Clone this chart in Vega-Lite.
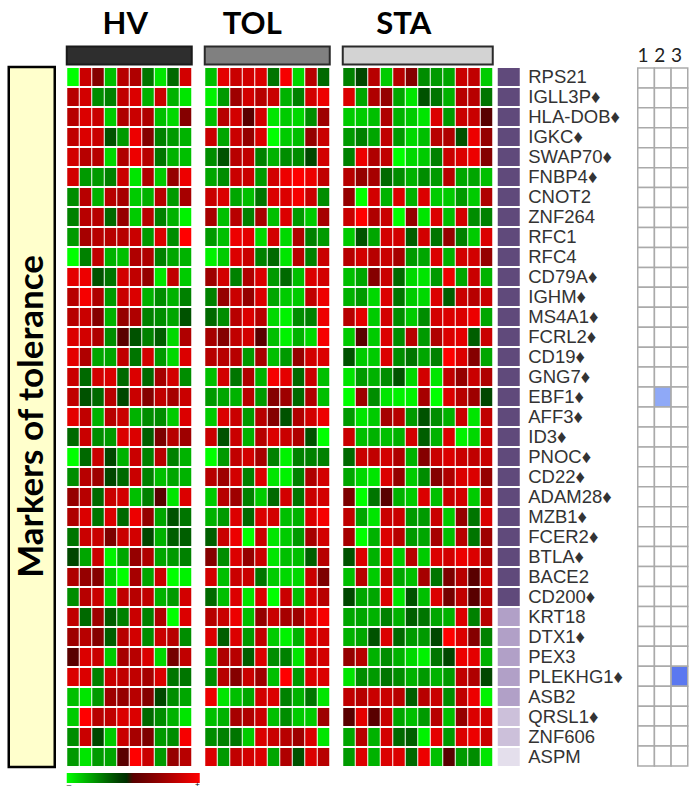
{"$schema":"https://vega.github.io/schema/vega-lite/v6.json","padding":{"left":6.75,"top":8,"right":0,"bottom":0},"background":"white","bounds":"flush","spacing":5,"resolve":{"scale":{"fill":"independent","x":"independent","y":"independent"}},"config":{"view":{"stroke":null},"axis":{"title":null}},
"datasets":{
"hv":[
{"g":"RPS21","s":"1","v":-1},{"g":"RPS21","s":"2","v":0.7},{"g":"RPS21","s":"3","v":0.3},{"g":"RPS21","s":"4","v":-0.75},{"g":"RPS21","s":"5","v":0.6},{"g":"RPS21","s":"6","v":0.55},{"g":"RPS21","s":"7","v":-0.45},{"g":"RPS21","s":"8","v":-0.9},{"g":"RPS21","s":"9","v":-0.4},{"g":"RPS21","s":"10","v":0.75},
{"g":"IGLL3P◆","s":"1","v":0.6},{"g":"IGLL3P◆","s":"2","v":0.75},{"g":"IGLL3P◆","s":"3","v":-0.55},{"g":"IGLL3P◆","s":"4","v":-0.5},{"g":"IGLL3P◆","s":"5","v":0.65},{"g":"IGLL3P◆","s":"6","v":0.8},{"g":"IGLL3P◆","s":"7","v":-0.7},{"g":"IGLL3P◆","s":"8","v":0.7},{"g":"IGLL3P◆","s":"9","v":-0.7},{"g":"IGLL3P◆","s":"10","v":-0.9},
{"g":"HLA-DOB◆","s":"1","v":0.6},{"g":"HLA-DOB◆","s":"2","v":0.8},{"g":"HLA-DOB◆","s":"3","v":0.7},{"g":"HLA-DOB◆","s":"4","v":-0.8},{"g":"HLA-DOB◆","s":"5","v":0.55},{"g":"HLA-DOB◆","s":"6","v":0.7},{"g":"HLA-DOB◆","s":"7","v":0.55},{"g":"HLA-DOB◆","s":"8","v":-0.75},{"g":"HLA-DOB◆","s":"9","v":-0.85},{"g":"HLA-DOB◆","s":"10","v":0.3},
{"g":"IGKC◆","s":"1","v":0.65},{"g":"IGKC◆","s":"2","v":0.8},{"g":"IGKC◆","s":"3","v":0.7},{"g":"IGKC◆","s":"4","v":-0.3},{"g":"IGKC◆","s":"5","v":-0.6},{"g":"IGKC◆","s":"6","v":0.9},{"g":"IGKC◆","s":"7","v":0.3},{"g":"IGKC◆","s":"8","v":-0.5},{"g":"IGKC◆","s":"9","v":-0.6},{"g":"IGKC◆","s":"10","v":-0.7},
{"g":"SWAP70◆","s":"1","v":0.75},{"g":"SWAP70◆","s":"2","v":0.6},{"g":"SWAP70◆","s":"3","v":0.6},{"g":"SWAP70◆","s":"4","v":-0.85},{"g":"SWAP70◆","s":"5","v":0.55},{"g":"SWAP70◆","s":"6","v":0.9},{"g":"SWAP70◆","s":"7","v":0.6},{"g":"SWAP70◆","s":"8","v":-0.45},{"g":"SWAP70◆","s":"9","v":-0.7},{"g":"SWAP70◆","s":"10","v":-0.75},
{"g":"FNBP4◆","s":"1","v":0.75},{"g":"FNBP4◆","s":"2","v":-0.6},{"g":"FNBP4◆","s":"3","v":-0.6},{"g":"FNBP4◆","s":"4","v":-0.5},{"g":"FNBP4◆","s":"5","v":0.7},{"g":"FNBP4◆","s":"6","v":-0.9},{"g":"FNBP4◆","s":"7","v":0.55},{"g":"FNBP4◆","s":"8","v":-0.8},{"g":"FNBP4◆","s":"9","v":0.4},{"g":"FNBP4◆","s":"10","v":0.9},
{"g":"CNOT2","s":"1","v":-0.55},{"g":"CNOT2","s":"2","v":0.6},{"g":"CNOT2","s":"3","v":-0.7},{"g":"CNOT2","s":"4","v":0.6},{"g":"CNOT2","s":"5","v":0.5},{"g":"CNOT2","s":"6","v":-0.8},{"g":"CNOT2","s":"7","v":-0.7},{"g":"CNOT2","s":"8","v":0.6},{"g":"CNOT2","s":"9","v":-0.6},{"g":"CNOT2","s":"10","v":0.5},
{"g":"ZNF264","s":"1","v":-0.5},{"g":"ZNF264","s":"2","v":0.6},{"g":"ZNF264","s":"3","v":0.6},{"g":"ZNF264","s":"4","v":-0.4},{"g":"ZNF264","s":"5","v":0.4},{"g":"ZNF264","s":"6","v":-0.8},{"g":"ZNF264","s":"7","v":0.6},{"g":"ZNF264","s":"8","v":-0.5},{"g":"ZNF264","s":"9","v":-0.7},{"g":"ZNF264","s":"10","v":-0.95},
{"g":"RFC1","s":"1","v":-0.6},{"g":"RFC1","s":"2","v":0.5},{"g":"RFC1","s":"3","v":0.6},{"g":"RFC1","s":"4","v":0.6},{"g":"RFC1","s":"5","v":0.6},{"g":"RFC1","s":"6","v":0.7},{"g":"RFC1","s":"7","v":-0.6},{"g":"RFC1","s":"8","v":0.8},{"g":"RFC1","s":"9","v":-0.55},{"g":"RFC1","s":"10","v":1},
{"g":"RFC4","s":"1","v":-1},{"g":"RFC4","s":"2","v":-0.5},{"g":"RFC4","s":"3","v":0.65},{"g":"RFC4","s":"4","v":-0.7},{"g":"RFC4","s":"5","v":-0.75},{"g":"RFC4","s":"6","v":0.55},{"g":"RFC4","s":"7","v":0.55},{"g":"RFC4","s":"8","v":-0.5},{"g":"RFC4","s":"9","v":-0.65},{"g":"RFC4","s":"10","v":-0.7},
{"g":"CD79A◆","s":"1","v":0.85},{"g":"CD79A◆","s":"2","v":0.9},{"g":"CD79A◆","s":"3","v":-0.3},{"g":"CD79A◆","s":"4","v":-0.45},{"g":"CD79A◆","s":"5","v":0.75},{"g":"CD79A◆","s":"6","v":0.65},{"g":"CD79A◆","s":"7","v":0.4},{"g":"CD79A◆","s":"8","v":-0.9},{"g":"CD79A◆","s":"9","v":0.65},{"g":"CD79A◆","s":"10","v":-0.8},
{"g":"IGHM◆","s":"1","v":0.6},{"g":"IGHM◆","s":"2","v":0.95},{"g":"IGHM◆","s":"3","v":0.55},{"g":"IGHM◆","s":"4","v":-0.6},{"g":"IGHM◆","s":"5","v":0.7},{"g":"IGHM◆","s":"6","v":0.8},{"g":"IGHM◆","s":"7","v":-0.7},{"g":"IGHM◆","s":"8","v":-0.55},{"g":"IGHM◆","s":"9","v":-0.7},{"g":"IGHM◆","s":"10","v":-0.5},
{"g":"MS4A1◆","s":"1","v":0.6},{"g":"MS4A1◆","s":"2","v":0.7},{"g":"MS4A1◆","s":"3","v":0.3},{"g":"MS4A1◆","s":"4","v":-0.7},{"g":"MS4A1◆","s":"5","v":0.4},{"g":"MS4A1◆","s":"6","v":0.55},{"g":"MS4A1◆","s":"7","v":-0.5},{"g":"MS4A1◆","s":"8","v":-0.55},{"g":"MS4A1◆","s":"9","v":-0.65},{"g":"MS4A1◆","s":"10","v":-0.3},
{"g":"FCRL2◆","s":"1","v":0.8},{"g":"FCRL2◆","s":"2","v":0.75},{"g":"FCRL2◆","s":"3","v":0.55},{"g":"FCRL2◆","s":"4","v":-0.55},{"g":"FCRL2◆","s":"5","v":0},{"g":"FCRL2◆","s":"6","v":-0.3},{"g":"FCRL2◆","s":"7","v":-0.5},{"g":"FCRL2◆","s":"8","v":-0.35},{"g":"FCRL2◆","s":"9","v":-0.85},{"g":"FCRL2◆","s":"10","v":0.55},
{"g":"CD19◆","s":"1","v":0.85},{"g":"CD19◆","s":"2","v":0.55},{"g":"CD19◆","s":"3","v":-0.65},{"g":"CD19◆","s":"4","v":-0.65},{"g":"CD19◆","s":"5","v":0.65},{"g":"CD19◆","s":"6","v":-0.45},{"g":"CD19◆","s":"7","v":0.75},{"g":"CD19◆","s":"8","v":-0.6},{"g":"CD19◆","s":"9","v":-0.85},{"g":"CD19◆","s":"10","v":0.8},
{"g":"GNG7◆","s":"1","v":0.7},{"g":"GNG7◆","s":"2","v":-0.4},{"g":"GNG7◆","s":"3","v":0.75},{"g":"GNG7◆","s":"4","v":0.8},{"g":"GNG7◆","s":"5","v":-0.4},{"g":"GNG7◆","s":"6","v":0.8},{"g":"GNG7◆","s":"7","v":-0.4},{"g":"GNG7◆","s":"8","v":0.5},{"g":"GNG7◆","s":"9","v":0.75},{"g":"GNG7◆","s":"10","v":-0.55},
{"g":"EBF1◆","s":"1","v":0.65},{"g":"EBF1◆","s":"2","v":-0.3},{"g":"EBF1◆","s":"3","v":-0.4},{"g":"EBF1◆","s":"4","v":0.6},{"g":"EBF1◆","s":"5","v":-0.25},{"g":"EBF1◆","s":"6","v":0.7},{"g":"EBF1◆","s":"7","v":0.3},{"g":"EBF1◆","s":"8","v":0.65},{"g":"EBF1◆","s":"9","v":0.5},{"g":"EBF1◆","s":"10","v":0.7},
{"g":"AFF3◆","s":"1","v":0.85},{"g":"AFF3◆","s":"2","v":0.65},{"g":"AFF3◆","s":"3","v":-0.7},{"g":"AFF3◆","s":"4","v":0.6},{"g":"AFF3◆","s":"5","v":0.7},{"g":"AFF3◆","s":"6","v":-0.7},{"g":"AFF3◆","s":"7","v":-0.55},{"g":"AFF3◆","s":"8","v":-0.55},{"g":"AFF3◆","s":"9","v":-0.8},{"g":"AFF3◆","s":"10","v":0.8},
{"g":"ID3◆","s":"1","v":-0.4},{"g":"ID3◆","s":"2","v":0.7},{"g":"ID3◆","s":"3","v":-0.55},{"g":"ID3◆","s":"4","v":-0.6},{"g":"ID3◆","s":"5","v":0.8},{"g":"ID3◆","s":"6","v":0.8},{"g":"ID3◆","s":"7","v":-0.35},{"g":"ID3◆","s":"8","v":0.25},{"g":"ID3◆","s":"9","v":0.6},{"g":"ID3◆","s":"10","v":0.45},
{"g":"PNOC◆","s":"1","v":-1},{"g":"PNOC◆","s":"2","v":-0.4},{"g":"PNOC◆","s":"3","v":0.7},{"g":"PNOC◆","s":"4","v":-0.25},{"g":"PNOC◆","s":"5","v":-0.7},{"g":"PNOC◆","s":"6","v":0.7},{"g":"PNOC◆","s":"7","v":-0.5},{"g":"PNOC◆","s":"8","v":0.6},{"g":"PNOC◆","s":"9","v":-0.5},{"g":"PNOC◆","s":"10","v":-0.7},
{"g":"CD22◆","s":"1","v":-0.55},{"g":"CD22◆","s":"2","v":0.6},{"g":"CD22◆","s":"3","v":0.45},{"g":"CD22◆","s":"4","v":-0.25},{"g":"CD22◆","s":"5","v":-0.4},{"g":"CD22◆","s":"6","v":0.7},{"g":"CD22◆","s":"7","v":-0.5},{"g":"CD22◆","s":"8","v":-0.75},{"g":"CD22◆","s":"9","v":-0.65},{"g":"CD22◆","s":"10","v":-0.7},
{"g":"ADAM28◆","s":"1","v":0.4},{"g":"ADAM28◆","s":"2","v":0.6},{"g":"ADAM28◆","s":"3","v":-0.4},{"g":"ADAM28◆","s":"4","v":0.7},{"g":"ADAM28◆","s":"5","v":0.75},{"g":"ADAM28◆","s":"6","v":-0.75},{"g":"ADAM28◆","s":"7","v":-0.5},{"g":"ADAM28◆","s":"8","v":0},{"g":"ADAM28◆","s":"9","v":-0.9},{"g":"ADAM28◆","s":"10","v":0.8},
{"g":"MZB1◆","s":"1","v":0.55},{"g":"MZB1◆","s":"2","v":0.8},{"g":"MZB1◆","s":"3","v":-0.45},{"g":"MZB1◆","s":"4","v":0.8},{"g":"MZB1◆","s":"5","v":-0.4},{"g":"MZB1◆","s":"6","v":0.9},{"g":"MZB1◆","s":"7","v":0.4},{"g":"MZB1◆","s":"8","v":-0.65},{"g":"MZB1◆","s":"9","v":-0.3},{"g":"MZB1◆","s":"10","v":-0.45},
{"g":"FCER2◆","s":"1","v":-0.45},{"g":"FCER2◆","s":"2","v":0.7},{"g":"FCER2◆","s":"3","v":0.7},{"g":"FCER2◆","s":"4","v":0.25},{"g":"FCER2◆","s":"5","v":0.7},{"g":"FCER2◆","s":"6","v":0.75},{"g":"FCER2◆","s":"7","v":-0.25},{"g":"FCER2◆","s":"8","v":-0.7},{"g":"FCER2◆","s":"9","v":-0.35},{"g":"FCER2◆","s":"10","v":-0.35},
{"g":"BTLA◆","s":"1","v":-0.25},{"g":"BTLA◆","s":"2","v":-0.65},{"g":"BTLA◆","s":"3","v":0.7},{"g":"BTLA◆","s":"4","v":-0.95},{"g":"BTLA◆","s":"5","v":-0.65},{"g":"BTLA◆","s":"6","v":0.4},{"g":"BTLA◆","s":"7","v":0.55},{"g":"BTLA◆","s":"8","v":-0.65},{"g":"BTLA◆","s":"9","v":-0.6},{"g":"BTLA◆","s":"10","v":-0.5},
{"g":"BACE2","s":"1","v":0.55},{"g":"BACE2","s":"2","v":0.4},{"g":"BACE2","s":"3","v":0.3},{"g":"BACE2","s":"4","v":-0.8},{"g":"BACE2","s":"5","v":-1},{"g":"BACE2","s":"6","v":0.5},{"g":"BACE2","s":"7","v":-0.65},{"g":"BACE2","s":"8","v":0.7},{"g":"BACE2","s":"9","v":-1},{"g":"BACE2","s":"10","v":-0.95},
{"g":"CD200◆","s":"1","v":-0.55},{"g":"CD200◆","s":"2","v":0.6},{"g":"CD200◆","s":"3","v":0.7},{"g":"CD200◆","s":"4","v":-0.8},{"g":"CD200◆","s":"5","v":0.65},{"g":"CD200◆","s":"6","v":0.6},{"g":"CD200◆","s":"7","v":0.65},{"g":"CD200◆","s":"8","v":-0.7},{"g":"CD200◆","s":"9","v":-0.6},{"g":"CD200◆","s":"10","v":0.75},
{"g":"KRT18","s":"1","v":0.65},{"g":"KRT18","s":"2","v":-0.4},{"g":"KRT18","s":"3","v":0.45},{"g":"KRT18","s":"4","v":-0.35},{"g":"KRT18","s":"5","v":-0.5},{"g":"KRT18","s":"6","v":0.7},{"g":"KRT18","s":"7","v":-0.5},{"g":"KRT18","s":"8","v":0.55},{"g":"KRT18","s":"9","v":-1},{"g":"KRT18","s":"10","v":0.8},
{"g":"DTX1◆","s":"1","v":0.45},{"g":"DTX1◆","s":"2","v":0.6},{"g":"DTX1◆","s":"3","v":0.3},{"g":"DTX1◆","s":"4","v":-0.35},{"g":"DTX1◆","s":"5","v":0.6},{"g":"DTX1◆","s":"6","v":0.75},{"g":"DTX1◆","s":"7","v":-0.55},{"g":"DTX1◆","s":"8","v":0.7},{"g":"DTX1◆","s":"9","v":0.6},{"g":"DTX1◆","s":"10","v":-0.55},
{"g":"PEX3","s":"1","v":0},{"g":"PEX3","s":"2","v":0.8},{"g":"PEX3","s":"3","v":0.7},{"g":"PEX3","s":"4","v":-0.8},{"g":"PEX3","s":"5","v":0.5},{"g":"PEX3","s":"6","v":0.6},{"g":"PEX3","s":"7","v":0.8},{"g":"PEX3","s":"8","v":-0.85},{"g":"PEX3","s":"9","v":0.2},{"g":"PEX3","s":"10","v":0.65},
{"g":"PLEKHG1◆","s":"1","v":0.8},{"g":"PLEKHG1◆","s":"2","v":0.8},{"g":"PLEKHG1◆","s":"3","v":-0.5},{"g":"PLEKHG1◆","s":"4","v":0.7},{"g":"PLEKHG1◆","s":"5","v":0.65},{"g":"PLEKHG1◆","s":"6","v":0.65},{"g":"PLEKHG1◆","s":"7","v":0.5},{"g":"PLEKHG1◆","s":"8","v":0.8},{"g":"PLEKHG1◆","s":"9","v":-0.45},{"g":"PLEKHG1◆","s":"10","v":-0.45},
{"g":"ASB2","s":"1","v":-0.75},{"g":"ASB2","s":"2","v":-0.9},{"g":"ASB2","s":"3","v":-0.6},{"g":"ASB2","s":"4","v":0.45},{"g":"ASB2","s":"5","v":0.4},{"g":"ASB2","s":"6","v":0.6},{"g":"ASB2","s":"7","v":0.3},{"g":"ASB2","s":"8","v":-0.25},{"g":"ASB2","s":"9","v":-0.55},{"g":"ASB2","s":"10","v":-0.65},
{"g":"QRSL1◆","s":"1","v":-0.8},{"g":"QRSL1◆","s":"2","v":1},{"g":"QRSL1◆","s":"3","v":0.6},{"g":"QRSL1◆","s":"4","v":0.65},{"g":"QRSL1◆","s":"5","v":0.8},{"g":"QRSL1◆","s":"6","v":0.8},{"g":"QRSL1◆","s":"7","v":-0.4},{"g":"QRSL1◆","s":"8","v":-0.55},{"g":"QRSL1◆","s":"9","v":-0.7},{"g":"QRSL1◆","s":"10","v":-0.9},
{"g":"ZNF606","s":"1","v":-0.55},{"g":"ZNF606","s":"2","v":0.7},{"g":"ZNF606","s":"3","v":-0.25},{"g":"ZNF606","s":"4","v":-0.8},{"g":"ZNF606","s":"5","v":0.7},{"g":"ZNF606","s":"6","v":0.5},{"g":"ZNF606","s":"7","v":0.25},{"g":"ZNF606","s":"8","v":-0.6},{"g":"ZNF606","s":"9","v":-0.55},{"g":"ZNF606","s":"10","v":0.95},
{"g":"ASPM","s":"1","v":-0.6},{"g":"ASPM","s":"2","v":-0.9},{"g":"ASPM","s":"3","v":-0.6},{"g":"ASPM","s":"4","v":-0.65},{"g":"ASPM","s":"5","v":0},{"g":"ASPM","s":"6","v":1},{"g":"ASPM","s":"7","v":0.7},{"g":"ASPM","s":"8","v":-0.6},{"g":"ASPM","s":"9","v":0.4},{"g":"ASPM","s":"10","v":0.6}
],
"tol":[
{"g":"RPS21","s":"1","v":-0.75},{"g":"RPS21","s":"2","v":0.85},{"g":"RPS21","s":"3","v":0.7},{"g":"RPS21","s":"4","v":0.75},{"g":"RPS21","s":"5","v":0.8},{"g":"RPS21","s":"6","v":-0.45},{"g":"RPS21","s":"7","v":0.95},{"g":"RPS21","s":"8","v":-0.85},{"g":"RPS21","s":"9","v":0.6},{"g":"RPS21","s":"10","v":-0.4},
{"g":"IGLL3P◆","s":"1","v":-0.95},{"g":"IGLL3P◆","s":"2","v":-0.6},{"g":"IGLL3P◆","s":"3","v":0.45},{"g":"IGLL3P◆","s":"4","v":0.75},{"g":"IGLL3P◆","s":"5","v":0.6},{"g":"IGLL3P◆","s":"6","v":0.7},{"g":"IGLL3P◆","s":"7","v":-0.7},{"g":"IGLL3P◆","s":"8","v":-0.5},{"g":"IGLL3P◆","s":"9","v":0.75},{"g":"IGLL3P◆","s":"10","v":0.9},
{"g":"HLA-DOB◆","s":"1","v":-0.75},{"g":"HLA-DOB◆","s":"2","v":0.6},{"g":"HLA-DOB◆","s":"3","v":0.75},{"g":"HLA-DOB◆","s":"4","v":0},{"g":"HLA-DOB◆","s":"5","v":0.75},{"g":"HLA-DOB◆","s":"6","v":-0.9},{"g":"HLA-DOB◆","s":"7","v":-0.8},{"g":"HLA-DOB◆","s":"8","v":-0.85},{"g":"HLA-DOB◆","s":"9","v":-0.55},{"g":"HLA-DOB◆","s":"10","v":0.45},
{"g":"IGKC◆","s":"1","v":0.7},{"g":"IGKC◆","s":"2","v":-0.65},{"g":"IGKC◆","s":"3","v":0.7},{"g":"IGKC◆","s":"4","v":0.4},{"g":"IGKC◆","s":"5","v":0.8},{"g":"IGKC◆","s":"6","v":-1},{"g":"IGKC◆","s":"7","v":-0.8},{"g":"IGKC◆","s":"8","v":-0.75},{"g":"IGKC◆","s":"9","v":0.4},{"g":"IGKC◆","s":"10","v":0.7},
{"g":"SWAP70◆","s":"1","v":-0.55},{"g":"SWAP70◆","s":"2","v":-0.3},{"g":"SWAP70◆","s":"3","v":0.6},{"g":"SWAP70◆","s":"4","v":0.65},{"g":"SWAP70◆","s":"5","v":-0.5},{"g":"SWAP70◆","s":"6","v":-0.7},{"g":"SWAP70◆","s":"7","v":-0.55},{"g":"SWAP70◆","s":"8","v":-0.55},{"g":"SWAP70◆","s":"9","v":-0.25},{"g":"SWAP70◆","s":"10","v":0.75},
{"g":"FNBP4◆","s":"1","v":-0.65},{"g":"FNBP4◆","s":"2","v":-0.55},{"g":"FNBP4◆","s":"3","v":0.7},{"g":"FNBP4◆","s":"4","v":0.7},{"g":"FNBP4◆","s":"5","v":-0.6},{"g":"FNBP4◆","s":"6","v":0.75},{"g":"FNBP4◆","s":"7","v":0.9},{"g":"FNBP4◆","s":"8","v":1},{"g":"FNBP4◆","s":"9","v":0.9},{"g":"FNBP4◆","s":"10","v":0.65},
{"g":"CNOT2","s":"1","v":0.7},{"g":"CNOT2","s":"2","v":0.8},{"g":"CNOT2","s":"3","v":-0.65},{"g":"CNOT2","s":"4","v":-0.75},{"g":"CNOT2","s":"5","v":-0.45},{"g":"CNOT2","s":"6","v":0.8},{"g":"CNOT2","s":"7","v":0.8},{"g":"CNOT2","s":"8","v":0.95},{"g":"CNOT2","s":"9","v":0.7},{"g":"CNOT2","s":"10","v":-0.55},
{"g":"ZNF264","s":"1","v":0.5},{"g":"ZNF264","s":"2","v":-0.75},{"g":"ZNF264","s":"3","v":0.6},{"g":"ZNF264","s":"4","v":-0.5},{"g":"ZNF264","s":"5","v":0.5},{"g":"ZNF264","s":"6","v":-0.75},{"g":"ZNF264","s":"7","v":0.8},{"g":"ZNF264","s":"8","v":-0.6},{"g":"ZNF264","s":"9","v":-0.8},{"g":"ZNF264","s":"10","v":0.5},
{"g":"RFC1","s":"1","v":-0.6},{"g":"RFC1","s":"2","v":-0.75},{"g":"RFC1","s":"3","v":0.9},{"g":"RFC1","s":"4","v":0.85},{"g":"RFC1","s":"5","v":-0.85},{"g":"RFC1","s":"6","v":0.75},{"g":"RFC1","s":"7","v":-0.85},{"g":"RFC1","s":"8","v":0.55},{"g":"RFC1","s":"9","v":-0.5},{"g":"RFC1","s":"10","v":-0.6},
{"g":"RFC4","s":"1","v":-0.95},{"g":"RFC4","s":"2","v":-0.8},{"g":"RFC4","s":"3","v":0.8},{"g":"RFC4","s":"4","v":0.7},{"g":"RFC4","s":"5","v":-0.5},{"g":"RFC4","s":"6","v":-0.4},{"g":"RFC4","s":"7","v":-0.9},{"g":"RFC4","s":"8","v":0.6},{"g":"RFC4","s":"9","v":-0.5},{"g":"RFC4","s":"10","v":0.7},
{"g":"CD79A◆","s":"1","v":0.45},{"g":"CD79A◆","s":"2","v":0.75},{"g":"CD79A◆","s":"3","v":-0.5},{"g":"CD79A◆","s":"4","v":0.55},{"g":"CD79A◆","s":"5","v":0.8},{"g":"CD79A◆","s":"6","v":-0.6},{"g":"CD79A◆","s":"7","v":-0.4},{"g":"CD79A◆","s":"8","v":-0.75},{"g":"CD79A◆","s":"9","v":0.8},{"g":"CD79A◆","s":"10","v":0.75},
{"g":"IGHM◆","s":"1","v":-0.5},{"g":"IGHM◆","s":"2","v":0.4},{"g":"IGHM◆","s":"3","v":0.7},{"g":"IGHM◆","s":"4","v":0.4},{"g":"IGHM◆","s":"5","v":0.8},{"g":"IGHM◆","s":"6","v":-0.65},{"g":"IGHM◆","s":"7","v":-0.8},{"g":"IGHM◆","s":"8","v":-0.8},{"g":"IGHM◆","s":"9","v":0.65},{"g":"IGHM◆","s":"10","v":0.9},
{"g":"MS4A1◆","s":"1","v":-0.4},{"g":"MS4A1◆","s":"2","v":-0.55},{"g":"MS4A1◆","s":"3","v":0.6},{"g":"MS4A1◆","s":"4","v":0.8},{"g":"MS4A1◆","s":"5","v":0.6},{"g":"MS4A1◆","s":"6","v":-0.85},{"g":"MS4A1◆","s":"7","v":-0.95},{"g":"MS4A1◆","s":"8","v":-0.55},{"g":"MS4A1◆","s":"9","v":-0.5},{"g":"MS4A1◆","s":"10","v":0.9},
{"g":"FCRL2◆","s":"1","v":0.5},{"g":"FCRL2◆","s":"2","v":0.3},{"g":"FCRL2◆","s":"3","v":0.65},{"g":"FCRL2◆","s":"4","v":0.75},{"g":"FCRL2◆","s":"5","v":0},{"g":"FCRL2◆","s":"6","v":-0.75},{"g":"FCRL2◆","s":"7","v":-0.95},{"g":"FCRL2◆","s":"8","v":-0.7},{"g":"FCRL2◆","s":"9","v":-0.85},{"g":"FCRL2◆","s":"10","v":0.95},
{"g":"CD19◆","s":"1","v":0.6},{"g":"CD19◆","s":"2","v":0.6},{"g":"CD19◆","s":"3","v":0.6},{"g":"CD19◆","s":"4","v":-0.6},{"g":"CD19◆","s":"5","v":0.5},{"g":"CD19◆","s":"6","v":-0.75},{"g":"CD19◆","s":"7","v":-0.6},{"g":"CD19◆","s":"8","v":0.4},{"g":"CD19◆","s":"9","v":0.75},{"g":"CD19◆","s":"10","v":0.8},
{"g":"GNG7◆","s":"1","v":-0.75},{"g":"GNG7◆","s":"2","v":0.75},{"g":"GNG7◆","s":"3","v":-0.45},{"g":"GNG7◆","s":"4","v":0.55},{"g":"GNG7◆","s":"5","v":-0.7},{"g":"GNG7◆","s":"6","v":0.95},{"g":"GNG7◆","s":"7","v":0.85},{"g":"GNG7◆","s":"8","v":-0.4},{"g":"GNG7◆","s":"9","v":0.7},{"g":"GNG7◆","s":"10","v":-0.75},
{"g":"EBF1◆","s":"1","v":-0.6},{"g":"EBF1◆","s":"2","v":-0.65},{"g":"EBF1◆","s":"3","v":-0.7},{"g":"EBF1◆","s":"4","v":0.6},{"g":"EBF1◆","s":"5","v":-0.6},{"g":"EBF1◆","s":"6","v":0.3},{"g":"EBF1◆","s":"7","v":0.45},{"g":"EBF1◆","s":"8","v":-0.4},{"g":"EBF1◆","s":"9","v":0.55},{"g":"EBF1◆","s":"10","v":-0.75},
{"g":"AFF3◆","s":"1","v":-0.8},{"g":"AFF3◆","s":"2","v":0.8},{"g":"AFF3◆","s":"3","v":0.7},{"g":"AFF3◆","s":"4","v":-0.6},{"g":"AFF3◆","s":"5","v":0.6},{"g":"AFF3◆","s":"6","v":0.3},{"g":"AFF3◆","s":"7","v":-0.3},{"g":"AFF3◆","s":"8","v":0.55},{"g":"AFF3◆","s":"9","v":0.75},{"g":"AFF3◆","s":"10","v":0.9},
{"g":"ID3◆","s":"1","v":0.7},{"g":"ID3◆","s":"2","v":-0.3},{"g":"ID3◆","s":"3","v":0.7},{"g":"ID3◆","s":"4","v":-0.7},{"g":"ID3◆","s":"5","v":0.6},{"g":"ID3◆","s":"6","v":0.8},{"g":"ID3◆","s":"7","v":0.7},{"g":"ID3◆","s":"8","v":0.55},{"g":"ID3◆","s":"9","v":-0.3},{"g":"ID3◆","s":"10","v":-1},
{"g":"PNOC◆","s":"1","v":-1},{"g":"PNOC◆","s":"2","v":-0.6},{"g":"PNOC◆","s":"3","v":0.65},{"g":"PNOC◆","s":"4","v":0.75},{"g":"PNOC◆","s":"5","v":0.5},{"g":"PNOC◆","s":"6","v":-0.5},{"g":"PNOC◆","s":"7","v":-0.95},{"g":"PNOC◆","s":"8","v":-0.5},{"g":"PNOC◆","s":"9","v":-0.5},{"g":"PNOC◆","s":"10","v":-0.5},
{"g":"CD22◆","s":"1","v":0.6},{"g":"CD22◆","s":"2","v":0.45},{"g":"CD22◆","s":"3","v":0.75},{"g":"CD22◆","s":"4","v":-0.5},{"g":"CD22◆","s":"5","v":0.8},{"g":"CD22◆","s":"6","v":-0.9},{"g":"CD22◆","s":"7","v":-0.95},{"g":"CD22◆","s":"8","v":-0.5},{"g":"CD22◆","s":"9","v":0.55},{"g":"CD22◆","s":"10","v":0.75},
{"g":"ADAM28◆","s":"1","v":-0.8},{"g":"ADAM28◆","s":"2","v":0.6},{"g":"ADAM28◆","s":"3","v":0.45},{"g":"ADAM28◆","s":"4","v":-0.5},{"g":"ADAM28◆","s":"5","v":-0.8},{"g":"ADAM28◆","s":"6","v":-0.4},{"g":"ADAM28◆","s":"7","v":0.75},{"g":"ADAM28◆","s":"8","v":-0.45},{"g":"ADAM28◆","s":"9","v":0.7},{"g":"ADAM28◆","s":"10","v":0.75},
{"g":"MZB1◆","s":"1","v":-0.7},{"g":"MZB1◆","s":"2","v":-0.6},{"g":"MZB1◆","s":"3","v":0.8},{"g":"MZB1◆","s":"4","v":-0.4},{"g":"MZB1◆","s":"5","v":0.8},{"g":"MZB1◆","s":"6","v":0.75},{"g":"MZB1◆","s":"7","v":-0.75},{"g":"MZB1◆","s":"8","v":-0.7},{"g":"MZB1◆","s":"9","v":0.8},{"g":"MZB1◆","s":"10","v":0.95},
{"g":"FCER2◆","s":"1","v":-0.35},{"g":"FCER2◆","s":"2","v":0.7},{"g":"FCER2◆","s":"3","v":0.9},{"g":"FCER2◆","s":"4","v":-1},{"g":"FCER2◆","s":"5","v":0.7},{"g":"FCER2◆","s":"6","v":-0.9},{"g":"FCER2◆","s":"7","v":-0.8},{"g":"FCER2◆","s":"8","v":-0.6},{"g":"FCER2◆","s":"9","v":0.5},{"g":"FCER2◆","s":"10","v":0.75},
{"g":"BTLA◆","s":"1","v":0.3},{"g":"BTLA◆","s":"2","v":-0.55},{"g":"BTLA◆","s":"3","v":0.8},{"g":"BTLA◆","s":"4","v":0.4},{"g":"BTLA◆","s":"5","v":0.7},{"g":"BTLA◆","s":"6","v":-0.9},{"g":"BTLA◆","s":"7","v":-0.75},{"g":"BTLA◆","s":"8","v":-0.75},{"g":"BTLA◆","s":"9","v":-0.35},{"g":"BTLA◆","s":"10","v":0.6},
{"g":"BACE2","s":"1","v":0.75},{"g":"BACE2","s":"2","v":-0.75},{"g":"BACE2","s":"3","v":0.7},{"g":"BACE2","s":"4","v":0.7},{"g":"BACE2","s":"5","v":-0.45},{"g":"BACE2","s":"6","v":-0.8},{"g":"BACE2","s":"7","v":-0.85},{"g":"BACE2","s":"8","v":-0.85},{"g":"BACE2","s":"9","v":0.7},{"g":"BACE2","s":"10","v":0.25},
{"g":"CD200◆","s":"1","v":-0.4},{"g":"CD200◆","s":"2","v":-0.75},{"g":"CD200◆","s":"3","v":0.8},{"g":"CD200◆","s":"4","v":-0.9},{"g":"CD200◆","s":"5","v":0.8},{"g":"CD200◆","s":"6","v":-1},{"g":"CD200◆","s":"7","v":0.7},{"g":"CD200◆","s":"8","v":-0.75},{"g":"CD200◆","s":"9","v":0.75},{"g":"CD200◆","s":"10","v":0.6},
{"g":"KRT18","s":"1","v":0.6},{"g":"KRT18","s":"2","v":0.7},{"g":"KRT18","s":"3","v":0.9},{"g":"KRT18","s":"4","v":-0.75},{"g":"KRT18","s":"5","v":0.4},{"g":"KRT18","s":"6","v":0.7},{"g":"KRT18","s":"7","v":0.5},{"g":"KRT18","s":"8","v":0.45},{"g":"KRT18","s":"9","v":0.8},{"g":"KRT18","s":"10","v":0.95},
{"g":"DTX1◆","s":"1","v":0.8},{"g":"DTX1◆","s":"2","v":-0.35},{"g":"DTX1◆","s":"3","v":0.8},{"g":"DTX1◆","s":"4","v":-0.6},{"g":"DTX1◆","s":"5","v":0.65},{"g":"DTX1◆","s":"6","v":-0.8},{"g":"DTX1◆","s":"7","v":-0.95},{"g":"DTX1◆","s":"8","v":-0.7},{"g":"DTX1◆","s":"9","v":0.8},{"g":"DTX1◆","s":"10","v":0.75},
{"g":"PEX3","s":"1","v":-0.7},{"g":"PEX3","s":"2","v":0.55},{"g":"PEX3","s":"3","v":0.6},{"g":"PEX3","s":"4","v":-0.35},{"g":"PEX3","s":"5","v":0.8},{"g":"PEX3","s":"6","v":-0.55},{"g":"PEX3","s":"7","v":-0.5},{"g":"PEX3","s":"8","v":-0.9},{"g":"PEX3","s":"9","v":0.7},{"g":"PEX3","s":"10","v":0.75},
{"g":"PLEKHG1◆","s":"1","v":-0.55},{"g":"PLEKHG1◆","s":"2","v":0.6},{"g":"PLEKHG1◆","s":"3","v":0.3},{"g":"PLEKHG1◆","s":"4","v":0.7},{"g":"PLEKHG1◆","s":"5","v":0.45},{"g":"PLEKHG1◆","s":"6","v":-0.75},{"g":"PLEKHG1◆","s":"7","v":1},{"g":"PLEKHG1◆","s":"8","v":-0.6},{"g":"PLEKHG1◆","s":"9","v":0.8},{"g":"PLEKHG1◆","s":"10","v":0.8},
{"g":"ASB2","s":"1","v":0.9},{"g":"ASB2","s":"2","v":-0.9},{"g":"ASB2","s":"3","v":-0.75},{"g":"ASB2","s":"4","v":-0.65},{"g":"ASB2","s":"5","v":0.75},{"g":"ASB2","s":"6","v":0.8},{"g":"ASB2","s":"7","v":-0.5},{"g":"ASB2","s":"8","v":-0.7},{"g":"ASB2","s":"9","v":-0.45},{"g":"ASB2","s":"10","v":-0.9},
{"g":"QRSL1◆","s":"1","v":-0.75},{"g":"QRSL1◆","s":"2","v":-0.7},{"g":"QRSL1◆","s":"3","v":0.5},{"g":"QRSL1◆","s":"4","v":0.55},{"g":"QRSL1◆","s":"5","v":0.7},{"g":"QRSL1◆","s":"6","v":-0.75},{"g":"QRSL1◆","s":"7","v":-0.55},{"g":"QRSL1◆","s":"8","v":-0.8},{"g":"QRSL1◆","s":"9","v":-0.8},{"g":"QRSL1◆","s":"10","v":0.45},
{"g":"ZNF606","s":"1","v":-0.55},{"g":"ZNF606","s":"2","v":-0.5},{"g":"ZNF606","s":"3","v":-0.45},{"g":"ZNF606","s":"4","v":-0.8},{"g":"ZNF606","s":"5","v":0.8},{"g":"ZNF606","s":"6","v":0.7},{"g":"ZNF606","s":"7","v":0.6},{"g":"ZNF606","s":"8","v":0.45},{"g":"ZNF606","s":"9","v":0.8},{"g":"ZNF606","s":"10","v":-0.9},
{"g":"ASPM","s":"1","v":0.8},{"g":"ASPM","s":"2","v":-0.6},{"g":"ASPM","s":"3","v":0.65},{"g":"ASPM","s":"4","v":0.75},{"g":"ASPM","s":"5","v":0.8},{"g":"ASPM","s":"6","v":-0.65},{"g":"ASPM","s":"7","v":0.55},{"g":"ASPM","s":"8","v":-0.3},{"g":"ASPM","s":"9","v":0.8},{"g":"ASPM","s":"10","v":0.6}
],
"sta":[
{"g":"RPS21","s":"1","v":-0.5},{"g":"RPS21","s":"2","v":-0.25},{"g":"RPS21","s":"3","v":0.6},{"g":"RPS21","s":"4","v":-0.8},{"g":"RPS21","s":"5","v":0.6},{"g":"RPS21","s":"6","v":0.3},{"g":"RPS21","s":"7","v":-0.55},{"g":"RPS21","s":"8","v":-0.6},{"g":"RPS21","s":"9","v":-0.65},{"g":"RPS21","s":"10","v":0.7},{"g":"RPS21","s":"11","v":0.65},{"g":"RPS21","s":"12","v":-0.8},
{"g":"IGLL3P◆","s":"1","v":0.8},{"g":"IGLL3P◆","s":"2","v":-0.65},{"g":"IGLL3P◆","s":"3","v":0.55},{"g":"IGLL3P◆","s":"4","v":0.4},{"g":"IGLL3P◆","s":"5","v":-0.65},{"g":"IGLL3P◆","s":"6","v":-0.9},{"g":"IGLL3P◆","s":"7","v":-0.3},{"g":"IGLL3P◆","s":"8","v":-0.45},{"g":"IGLL3P◆","s":"9","v":-0.7},{"g":"IGLL3P◆","s":"10","v":0.6},{"g":"IGLL3P◆","s":"11","v":0.6},{"g":"IGLL3P◆","s":"12","v":-0.45},
{"g":"HLA-DOB◆","s":"1","v":-0.8},{"g":"HLA-DOB◆","s":"2","v":-0.8},{"g":"HLA-DOB◆","s":"3","v":-0.75},{"g":"HLA-DOB◆","s":"4","v":0.55},{"g":"HLA-DOB◆","s":"5","v":-0.7},{"g":"HLA-DOB◆","s":"6","v":-0.8},{"g":"HLA-DOB◆","s":"7","v":-0.9},{"g":"HLA-DOB◆","s":"8","v":0.8},{"g":"HLA-DOB◆","s":"9","v":-0.6},{"g":"HLA-DOB◆","s":"10","v":0.7},{"g":"HLA-DOB◆","s":"11","v":0.7},{"g":"HLA-DOB◆","s":"12","v":0},
{"g":"IGKC◆","s":"1","v":-0.6},{"g":"IGKC◆","s":"2","v":-0.5},{"g":"IGKC◆","s":"3","v":-0.65},{"g":"IGKC◆","s":"4","v":0.65},{"g":"IGKC◆","s":"5","v":-0.6},{"g":"IGKC◆","s":"6","v":-0.85},{"g":"IGKC◆","s":"7","v":-0.75},{"g":"IGKC◆","s":"8","v":0.6},{"g":"IGKC◆","s":"9","v":0.55},{"g":"IGKC◆","s":"10","v":-0.3},{"g":"IGKC◆","s":"11","v":0.9},{"g":"IGKC◆","s":"12","v":0.4},
{"g":"SWAP70◆","s":"1","v":-0.5},{"g":"SWAP70◆","s":"2","v":0.9},{"g":"SWAP70◆","s":"3","v":0.55},{"g":"SWAP70◆","s":"4","v":0.65},{"g":"SWAP70◆","s":"5","v":-1},{"g":"SWAP70◆","s":"6","v":-0.85},{"g":"SWAP70◆","s":"7","v":-0.8},{"g":"SWAP70◆","s":"8","v":-0.5},{"g":"SWAP70◆","s":"9","v":0.7},{"g":"SWAP70◆","s":"10","v":0.8},{"g":"SWAP70◆","s":"11","v":0.9},{"g":"SWAP70◆","s":"12","v":0.3},
{"g":"FNBP4◆","s":"1","v":0.6},{"g":"FNBP4◆","s":"2","v":0.4},{"g":"FNBP4◆","s":"3","v":0.5},{"g":"FNBP4◆","s":"4","v":-0.4},{"g":"FNBP4◆","s":"5","v":-0.55},{"g":"FNBP4◆","s":"6","v":-0.7},{"g":"FNBP4◆","s":"7","v":-0.55},{"g":"FNBP4◆","s":"8","v":-0.6},{"g":"FNBP4◆","s":"9","v":0.6},{"g":"FNBP4◆","s":"10","v":-0.65},{"g":"FNBP4◆","s":"11","v":-0.65},{"g":"FNBP4◆","s":"12","v":-0.75},
{"g":"CNOT2","s":"1","v":0.4},{"g":"CNOT2","s":"2","v":-1},{"g":"CNOT2","s":"3","v":0.75},{"g":"CNOT2","s":"4","v":-0.7},{"g":"CNOT2","s":"5","v":0.8},{"g":"CNOT2","s":"6","v":-0.7},{"g":"CNOT2","s":"7","v":0.8},{"g":"CNOT2","s":"8","v":-0.8},{"g":"CNOT2","s":"9","v":-0.8},{"g":"CNOT2","s":"10","v":-0.6},{"g":"CNOT2","s":"11","v":-0.8},{"g":"CNOT2","s":"12","v":0.55},
{"g":"ZNF264","s":"1","v":0.7},{"g":"ZNF264","s":"2","v":1},{"g":"ZNF264","s":"3","v":0.55},{"g":"ZNF264","s":"4","v":0.7},{"g":"ZNF264","s":"5","v":-1},{"g":"ZNF264","s":"6","v":0.4},{"g":"ZNF264","s":"7","v":-0.9},{"g":"ZNF264","s":"8","v":0.8},{"g":"ZNF264","s":"9","v":-0.75},{"g":"ZNF264","s":"10","v":0.75},{"g":"ZNF264","s":"11","v":-0.55},{"g":"ZNF264","s":"12","v":-0.5},
{"g":"RFC1","s":"1","v":-0.8},{"g":"RFC1","s":"2","v":-0.3},{"g":"RFC1","s":"3","v":-0.65},{"g":"RFC1","s":"4","v":0.75},{"g":"RFC1","s":"5","v":0.75},{"g":"RFC1","s":"6","v":-0.35},{"g":"RFC1","s":"7","v":0.75},{"g":"RFC1","s":"8","v":-0.45},{"g":"RFC1","s":"9","v":0.4},{"g":"RFC1","s":"10","v":-0.5},{"g":"RFC1","s":"11","v":-0.8},{"g":"RFC1","s":"12","v":0.8},
{"g":"RFC4","s":"1","v":0.6},{"g":"RFC4","s":"2","v":0.75},{"g":"RFC4","s":"3","v":0.6},{"g":"RFC4","s":"4","v":0.7},{"g":"RFC4","s":"5","v":0.5},{"g":"RFC4","s":"6","v":-0.6},{"g":"RFC4","s":"7","v":-0.65},{"g":"RFC4","s":"8","v":0.8},{"g":"RFC4","s":"9","v":-0.7},{"g":"RFC4","s":"10","v":0.75},{"g":"RFC4","s":"11","v":0.75},{"g":"RFC4","s":"12","v":0.4},
{"g":"CD79A◆","s":"1","v":-0.75},{"g":"CD79A◆","s":"2","v":-0.65},{"g":"CD79A◆","s":"3","v":0.3},{"g":"CD79A◆","s":"4","v":0.7},{"g":"CD79A◆","s":"5","v":-0.4},{"g":"CD79A◆","s":"6","v":-0.85},{"g":"CD79A◆","s":"7","v":-0.9},{"g":"CD79A◆","s":"8","v":-0.6},{"g":"CD79A◆","s":"9","v":0.9},{"g":"CD79A◆","s":"10","v":-0.65},{"g":"CD79A◆","s":"11","v":0.7},{"g":"CD79A◆","s":"12","v":-0.7},
{"g":"IGHM◆","s":"1","v":-0.7},{"g":"IGHM◆","s":"2","v":-0.6},{"g":"IGHM◆","s":"3","v":-0.85},{"g":"IGHM◆","s":"4","v":0.8},{"g":"IGHM◆","s":"5","v":-0.45},{"g":"IGHM◆","s":"6","v":-0.8},{"g":"IGHM◆","s":"7","v":-0.85},{"g":"IGHM◆","s":"8","v":0.8},{"g":"IGHM◆","s":"9","v":-0.35},{"g":"IGHM◆","s":"10","v":0.7},{"g":"IGHM◆","s":"11","v":0.6},{"g":"IGHM◆","s":"12","v":0.7},
{"g":"MS4A1◆","s":"1","v":0.6},{"g":"MS4A1◆","s":"2","v":0.85},{"g":"MS4A1◆","s":"3","v":-0.8},{"g":"MS4A1◆","s":"4","v":0.75},{"g":"MS4A1◆","s":"5","v":-0.55},{"g":"MS4A1◆","s":"6","v":-0.8},{"g":"MS4A1◆","s":"7","v":-0.55},{"g":"MS4A1◆","s":"8","v":0.75},{"g":"MS4A1◆","s":"9","v":0.8},{"g":"MS4A1◆","s":"10","v":0.8},{"g":"MS4A1◆","s":"11","v":0.9},{"g":"MS4A1◆","s":"12","v":-0.65},
{"g":"FCRL2◆","s":"1","v":-0.8},{"g":"FCRL2◆","s":"2","v":0},{"g":"FCRL2◆","s":"3","v":-0.8},{"g":"FCRL2◆","s":"4","v":0.8},{"g":"FCRL2◆","s":"5","v":-0.55},{"g":"FCRL2◆","s":"6","v":0.6},{"g":"FCRL2◆","s":"7","v":-0.6},{"g":"FCRL2◆","s":"8","v":0.55},{"g":"FCRL2◆","s":"9","v":0.8},{"g":"FCRL2◆","s":"10","v":0.85},{"g":"FCRL2◆","s":"11","v":-0.35},{"g":"FCRL2◆","s":"12","v":0.7},
{"g":"CD19◆","s":"1","v":-0.3},{"g":"CD19◆","s":"2","v":-0.8},{"g":"CD19◆","s":"3","v":-0.8},{"g":"CD19◆","s":"4","v":0.8},{"g":"CD19◆","s":"5","v":-0.55},{"g":"CD19◆","s":"6","v":-0.45},{"g":"CD19◆","s":"7","v":-0.65},{"g":"CD19◆","s":"8","v":-0.5},{"g":"CD19◆","s":"9","v":1},{"g":"CD19◆","s":"10","v":0.8},{"g":"CD19◆","s":"11","v":0.3},{"g":"CD19◆","s":"12","v":-0.65},
{"g":"GNG7◆","s":"1","v":-0.9},{"g":"GNG7◆","s":"2","v":-0.6},{"g":"GNG7◆","s":"3","v":-0.7},{"g":"GNG7◆","s":"4","v":-0.55},{"g":"GNG7◆","s":"5","v":-0.3},{"g":"GNG7◆","s":"6","v":-0.85},{"g":"GNG7◆","s":"7","v":0.75},{"g":"GNG7◆","s":"8","v":-0.9},{"g":"GNG7◆","s":"9","v":0.65},{"g":"GNG7◆","s":"10","v":0.4},{"g":"GNG7◆","s":"11","v":0.7},{"g":"GNG7◆","s":"12","v":0.55},
{"g":"EBF1◆","s":"1","v":-1},{"g":"EBF1◆","s":"2","v":0.45},{"g":"EBF1◆","s":"3","v":-0.55},{"g":"EBF1◆","s":"4","v":-0.9},{"g":"EBF1◆","s":"5","v":-0.95},{"g":"EBF1◆","s":"6","v":-0.95},{"g":"EBF1◆","s":"7","v":0.5},{"g":"EBF1◆","s":"8","v":-1},{"g":"EBF1◆","s":"9","v":0.8},{"g":"EBF1◆","s":"10","v":0.6},{"g":"EBF1◆","s":"11","v":0.45},{"g":"EBF1◆","s":"12","v":-0.25},
{"g":"AFF3◆","s":"1","v":-0.6},{"g":"AFF3◆","s":"2","v":-0.9},{"g":"AFF3◆","s":"3","v":-0.8},{"g":"AFF3◆","s":"4","v":0.5},{"g":"AFF3◆","s":"5","v":0.6},{"g":"AFF3◆","s":"6","v":-0.6},{"g":"AFF3◆","s":"7","v":-0.3},{"g":"AFF3◆","s":"8","v":-0.55},{"g":"AFF3◆","s":"9","v":-0.7},{"g":"AFF3◆","s":"10","v":0.7},{"g":"AFF3◆","s":"11","v":-0.9},{"g":"AFF3◆","s":"12","v":0.65},
{"g":"ID3◆","s":"1","v":0.7},{"g":"ID3◆","s":"2","v":-0.75},{"g":"ID3◆","s":"3","v":-0.7},{"g":"ID3◆","s":"4","v":-0.75},{"g":"ID3◆","s":"5","v":-0.7},{"g":"ID3◆","s":"6","v":0.75},{"g":"ID3◆","s":"7","v":-0.35},{"g":"ID3◆","s":"8","v":-0.7},{"g":"ID3◆","s":"9","v":0.8},{"g":"ID3◆","s":"10","v":-0.95},{"g":"ID3◆","s":"11","v":-0.85},{"g":"ID3◆","s":"12","v":0.7},
{"g":"PNOC◆","s":"1","v":-0.4},{"g":"PNOC◆","s":"2","v":0.7},{"g":"PNOC◆","s":"3","v":0.65},{"g":"PNOC◆","s":"4","v":0.75},{"g":"PNOC◆","s":"5","v":0.55},{"g":"PNOC◆","s":"6","v":-0.7},{"g":"PNOC◆","s":"7","v":0.3},{"g":"PNOC◆","s":"8","v":0.7},{"g":"PNOC◆","s":"9","v":0.8},{"g":"PNOC◆","s":"10","v":0.7},{"g":"PNOC◆","s":"11","v":0.65},{"g":"PNOC◆","s":"12","v":0.7},
{"g":"CD22◆","s":"1","v":-0.65},{"g":"CD22◆","s":"2","v":-0.85},{"g":"CD22◆","s":"3","v":-0.9},{"g":"CD22◆","s":"4","v":0.8},{"g":"CD22◆","s":"5","v":0.4},{"g":"CD22◆","s":"6","v":-0.8},{"g":"CD22◆","s":"7","v":-0.55},{"g":"CD22◆","s":"8","v":0.3},{"g":"CD22◆","s":"9","v":0.55},{"g":"CD22◆","s":"10","v":0.8},{"g":"CD22◆","s":"11","v":0.8},{"g":"CD22◆","s":"12","v":0.4},
{"g":"ADAM28◆","s":"1","v":0.25},{"g":"ADAM28◆","s":"2","v":-1},{"g":"ADAM28◆","s":"3","v":-0.45},{"g":"ADAM28◆","s":"4","v":0},{"g":"ADAM28◆","s":"5","v":-0.7},{"g":"ADAM28◆","s":"6","v":-0.8},{"g":"ADAM28◆","s":"7","v":0.8},{"g":"ADAM28◆","s":"8","v":-0.75},{"g":"ADAM28◆","s":"9","v":0.7},{"g":"ADAM28◆","s":"10","v":0.75},{"g":"ADAM28◆","s":"11","v":-0.8},{"g":"ADAM28◆","s":"12","v":0.65},
{"g":"MZB1◆","s":"1","v":0.65},{"g":"MZB1◆","s":"2","v":-0.65},{"g":"MZB1◆","s":"3","v":-0.9},{"g":"MZB1◆","s":"4","v":0.7},{"g":"MZB1◆","s":"5","v":0.7},{"g":"MZB1◆","s":"6","v":-0.6},{"g":"MZB1◆","s":"7","v":-0.6},{"g":"MZB1◆","s":"8","v":0.7},{"g":"MZB1◆","s":"9","v":-0.8},{"g":"MZB1◆","s":"10","v":0.4},{"g":"MZB1◆","s":"11","v":-0.45},{"g":"MZB1◆","s":"12","v":0.8},
{"g":"FCER2◆","s":"1","v":0.5},{"g":"FCER2◆","s":"2","v":-1},{"g":"FCER2◆","s":"3","v":-0.7},{"g":"FCER2◆","s":"4","v":0.8},{"g":"FCER2◆","s":"5","v":0.6},{"g":"FCER2◆","s":"6","v":-0.6},{"g":"FCER2◆","s":"7","v":-0.65},{"g":"FCER2◆","s":"8","v":0.5},{"g":"FCER2◆","s":"9","v":-0.75},{"g":"FCER2◆","s":"10","v":0.6},{"g":"FCER2◆","s":"11","v":-0.45},{"g":"FCER2◆","s":"12","v":0.45},
{"g":"BTLA◆","s":"1","v":-0.3},{"g":"BTLA◆","s":"2","v":0.8},{"g":"BTLA◆","s":"3","v":-0.7},{"g":"BTLA◆","s":"4","v":0.8},{"g":"BTLA◆","s":"5","v":-0.8},{"g":"BTLA◆","s":"6","v":0.6},{"g":"BTLA◆","s":"7","v":-0.8},{"g":"BTLA◆","s":"8","v":0.8},{"g":"BTLA◆","s":"9","v":0.75},{"g":"BTLA◆","s":"10","v":0.9},{"g":"BTLA◆","s":"11","v":0.8},{"g":"BTLA◆","s":"12","v":0.55},
{"g":"BACE2","s":"1","v":-0.75},{"g":"BACE2","s":"2","v":0.6},{"g":"BACE2","s":"3","v":-0.8},{"g":"BACE2","s":"4","v":0.7},{"g":"BACE2","s":"5","v":-0.65},{"g":"BACE2","s":"6","v":-0.75},{"g":"BACE2","s":"7","v":0.5},{"g":"BACE2","s":"8","v":-0.45},{"g":"BACE2","s":"9","v":0.25},{"g":"BACE2","s":"10","v":0.6},{"g":"BACE2","s":"11","v":0},{"g":"BACE2","s":"12","v":0.7},
{"g":"CD200◆","s":"1","v":-0.25},{"g":"CD200◆","s":"2","v":-0.65},{"g":"CD200◆","s":"3","v":-0.65},{"g":"CD200◆","s":"4","v":0.8},{"g":"CD200◆","s":"5","v":-0.9},{"g":"CD200◆","s":"6","v":-0.3},{"g":"CD200◆","s":"7","v":-0.75},{"g":"CD200◆","s":"8","v":0.8},{"g":"CD200◆","s":"9","v":0.2},{"g":"CD200◆","s":"10","v":0.65},{"g":"CD200◆","s":"11","v":0},{"g":"CD200◆","s":"12","v":0.6},
{"g":"KRT18","s":"1","v":-0.65},{"g":"KRT18","s":"2","v":-0.65},{"g":"KRT18","s":"3","v":-0.7},{"g":"KRT18","s":"4","v":-0.5},{"g":"KRT18","s":"5","v":-0.7},{"g":"KRT18","s":"6","v":-0.35},{"g":"KRT18","s":"7","v":-0.45},{"g":"KRT18","s":"8","v":-0.65},{"g":"KRT18","s":"9","v":-0.7},{"g":"KRT18","s":"10","v":0.8},{"g":"KRT18","s":"11","v":-0.5},{"g":"KRT18","s":"12","v":0.6},
{"g":"DTX1◆","s":"1","v":-0.7},{"g":"DTX1◆","s":"2","v":-0.65},{"g":"DTX1◆","s":"3","v":-0.3},{"g":"DTX1◆","s":"4","v":0.8},{"g":"DTX1◆","s":"5","v":-0.4},{"g":"DTX1◆","s":"6","v":-0.6},{"g":"DTX1◆","s":"7","v":-0.6},{"g":"DTX1◆","s":"8","v":-0.25},{"g":"DTX1◆","s":"9","v":1},{"g":"DTX1◆","s":"10","v":0.8},{"g":"DTX1◆","s":"11","v":0.3},{"g":"DTX1◆","s":"12","v":-0.5},
{"g":"PEX3","s":"1","v":0.4},{"g":"PEX3","s":"2","v":0.6},{"g":"PEX3","s":"3","v":-0.7},{"g":"PEX3","s":"4","v":-0.55},{"g":"PEX3","s":"5","v":-0.7},{"g":"PEX3","s":"6","v":-0.85},{"g":"PEX3","s":"7","v":-0.95},{"g":"PEX3","s":"8","v":-0.45},{"g":"PEX3","s":"9","v":-0.25},{"g":"PEX3","s":"10","v":0.9},{"g":"PEX3","s":"11","v":0.85},{"g":"PEX3","s":"12","v":-0.7},
{"g":"PLEKHG1◆","s":"1","v":-0.9},{"g":"PLEKHG1◆","s":"2","v":-0.55},{"g":"PLEKHG1◆","s":"3","v":-0.6},{"g":"PLEKHG1◆","s":"4","v":-0.45},{"g":"PLEKHG1◆","s":"5","v":-0.55},{"g":"PLEKHG1◆","s":"6","v":-0.7},{"g":"PLEKHG1◆","s":"7","v":-0.6},{"g":"PLEKHG1◆","s":"8","v":-0.7},{"g":"PLEKHG1◆","s":"9","v":-0.6},{"g":"PLEKHG1◆","s":"10","v":0.65},{"g":"PLEKHG1◆","s":"11","v":0.55},{"g":"PLEKHG1◆","s":"12","v":-0.25},
{"g":"ASB2","s":"1","v":0.65},{"g":"ASB2","s":"2","v":0.6},{"g":"ASB2","s":"3","v":0.7},{"g":"ASB2","s":"4","v":0.7},{"g":"ASB2","s":"5","v":0.6},{"g":"ASB2","s":"6","v":-0.35},{"g":"ASB2","s":"7","v":0.6},{"g":"ASB2","s":"8","v":0.7},{"g":"ASB2","s":"9","v":-0.55},{"g":"ASB2","s":"10","v":0.65},{"g":"ASB2","s":"11","v":0.9},{"g":"ASB2","s":"12","v":-0.95},
{"g":"QRSL1◆","s":"1","v":0},{"g":"QRSL1◆","s":"2","v":0.85},{"g":"QRSL1◆","s":"3","v":0},{"g":"QRSL1◆","s":"4","v":0.7},{"g":"QRSL1◆","s":"5","v":-0.65},{"g":"QRSL1◆","s":"6","v":-0.75},{"g":"QRSL1◆","s":"7","v":-0.6},{"g":"QRSL1◆","s":"8","v":0.6},{"g":"QRSL1◆","s":"9","v":-0.75},{"g":"QRSL1◆","s":"10","v":0.4},{"g":"QRSL1◆","s":"11","v":0.8},{"g":"QRSL1◆","s":"12","v":0.75},
{"g":"ZNF606","s":"1","v":-0.65},{"g":"ZNF606","s":"2","v":0.6},{"g":"ZNF606","s":"3","v":-0.7},{"g":"ZNF606","s":"4","v":0.75},{"g":"ZNF606","s":"5","v":-0.4},{"g":"ZNF606","s":"6","v":-0.35},{"g":"ZNF606","s":"7","v":-0.95},{"g":"ZNF606","s":"8","v":0.85},{"g":"ZNF606","s":"9","v":-0.6},{"g":"ZNF606","s":"10","v":0.8},{"g":"ZNF606","s":"11","v":0.9},{"g":"ZNF606","s":"12","v":0.7},
{"g":"ASPM","s":"1","v":-0.6},{"g":"ASPM","s":"2","v":0.8},{"g":"ASPM","s":"3","v":-0.7},{"g":"ASPM","s":"4","v":0.8},{"g":"ASPM","s":"5","v":0.8},{"g":"ASPM","s":"6","v":-0.4},{"g":"ASPM","s":"7","v":0.9},{"g":"ASPM","s":"8","v":-0.75},{"g":"ASPM","s":"9","v":0},{"g":"ASPM","s":"10","v":-0.6},{"g":"ASPM","s":"11","v":-0.55},{"g":"ASPM","s":"12","v":-0.9}
],
"strip":[{"g":"RPS21","level":"a"},{"g":"IGLL3P◆","level":"a"},{"g":"HLA-DOB◆","level":"a"},{"g":"IGKC◆","level":"a"},{"g":"SWAP70◆","level":"a"},{"g":"FNBP4◆","level":"a"},{"g":"CNOT2","level":"a"},{"g":"ZNF264","level":"a"},{"g":"RFC1","level":"a"},{"g":"RFC4","level":"a"},{"g":"CD79A◆","level":"a"},{"g":"IGHM◆","level":"a"},{"g":"MS4A1◆","level":"a"},{"g":"FCRL2◆","level":"a"},{"g":"CD19◆","level":"a"},{"g":"GNG7◆","level":"a"},{"g":"EBF1◆","level":"a"},{"g":"AFF3◆","level":"a"},{"g":"ID3◆","level":"a"},{"g":"PNOC◆","level":"a"},{"g":"CD22◆","level":"a"},{"g":"ADAM28◆","level":"a"},{"g":"MZB1◆","level":"a"},{"g":"FCER2◆","level":"a"},{"g":"BTLA◆","level":"a"},{"g":"BACE2","level":"a"},{"g":"CD200◆","level":"a"},{"g":"KRT18","level":"b"},{"g":"DTX1◆","level":"b"},{"g":"PEX3","level":"b"},{"g":"PLEKHG1◆","level":"b"},{"g":"ASB2","level":"b"},{"g":"QRSL1◆","level":"c"},{"g":"ZNF606","level":"c"},{"g":"ASPM","level":"d"}],
"tbl":[{"g":"RPS21","c":"1","v":0},{"g":"RPS21","c":"2","v":0},{"g":"RPS21","c":"3","v":0},{"g":"IGLL3P◆","c":"1","v":0},{"g":"IGLL3P◆","c":"2","v":0},{"g":"IGLL3P◆","c":"3","v":0},{"g":"HLA-DOB◆","c":"1","v":0},{"g":"HLA-DOB◆","c":"2","v":0},{"g":"HLA-DOB◆","c":"3","v":0},{"g":"IGKC◆","c":"1","v":0},{"g":"IGKC◆","c":"2","v":0},{"g":"IGKC◆","c":"3","v":0},{"g":"SWAP70◆","c":"1","v":0},{"g":"SWAP70◆","c":"2","v":0},{"g":"SWAP70◆","c":"3","v":0},{"g":"FNBP4◆","c":"1","v":0},{"g":"FNBP4◆","c":"2","v":0},{"g":"FNBP4◆","c":"3","v":0},{"g":"CNOT2","c":"1","v":0},{"g":"CNOT2","c":"2","v":0},{"g":"CNOT2","c":"3","v":0},{"g":"ZNF264","c":"1","v":0},{"g":"ZNF264","c":"2","v":0},{"g":"ZNF264","c":"3","v":0},{"g":"RFC1","c":"1","v":0},{"g":"RFC1","c":"2","v":0},{"g":"RFC1","c":"3","v":0},{"g":"RFC4","c":"1","v":0},{"g":"RFC4","c":"2","v":0},{"g":"RFC4","c":"3","v":0},{"g":"CD79A◆","c":"1","v":0},{"g":"CD79A◆","c":"2","v":0},{"g":"CD79A◆","c":"3","v":0},{"g":"IGHM◆","c":"1","v":0},{"g":"IGHM◆","c":"2","v":0},{"g":"IGHM◆","c":"3","v":0},{"g":"MS4A1◆","c":"1","v":0},{"g":"MS4A1◆","c":"2","v":0},{"g":"MS4A1◆","c":"3","v":0},{"g":"FCRL2◆","c":"1","v":0},{"g":"FCRL2◆","c":"2","v":0},{"g":"FCRL2◆","c":"3","v":0},{"g":"CD19◆","c":"1","v":0},{"g":"CD19◆","c":"2","v":0},{"g":"CD19◆","c":"3","v":0},{"g":"GNG7◆","c":"1","v":0},{"g":"GNG7◆","c":"2","v":0},{"g":"GNG7◆","c":"3","v":0},{"g":"EBF1◆","c":"1","v":0},{"g":"EBF1◆","c":"2","v":1},{"g":"EBF1◆","c":"3","v":0},{"g":"AFF3◆","c":"1","v":0},{"g":"AFF3◆","c":"2","v":0},{"g":"AFF3◆","c":"3","v":0},{"g":"ID3◆","c":"1","v":0},{"g":"ID3◆","c":"2","v":0},{"g":"ID3◆","c":"3","v":0},{"g":"PNOC◆","c":"1","v":0},{"g":"PNOC◆","c":"2","v":0},{"g":"PNOC◆","c":"3","v":0},{"g":"CD22◆","c":"1","v":0},{"g":"CD22◆","c":"2","v":0},{"g":"CD22◆","c":"3","v":0},{"g":"ADAM28◆","c":"1","v":0},{"g":"ADAM28◆","c":"2","v":0},{"g":"ADAM28◆","c":"3","v":0},{"g":"MZB1◆","c":"1","v":0},{"g":"MZB1◆","c":"2","v":0},{"g":"MZB1◆","c":"3","v":0},{"g":"FCER2◆","c":"1","v":0},{"g":"FCER2◆","c":"2","v":0},{"g":"FCER2◆","c":"3","v":0},{"g":"BTLA◆","c":"1","v":0},{"g":"BTLA◆","c":"2","v":0},{"g":"BTLA◆","c":"3","v":0},{"g":"BACE2","c":"1","v":0},{"g":"BACE2","c":"2","v":0},{"g":"BACE2","c":"3","v":0},{"g":"CD200◆","c":"1","v":0},{"g":"CD200◆","c":"2","v":0},{"g":"CD200◆","c":"3","v":0},{"g":"KRT18","c":"1","v":0},{"g":"KRT18","c":"2","v":0},{"g":"KRT18","c":"3","v":0},{"g":"DTX1◆","c":"1","v":0},{"g":"DTX1◆","c":"2","v":0},{"g":"DTX1◆","c":"3","v":0},{"g":"PEX3","c":"1","v":0},{"g":"PEX3","c":"2","v":0},{"g":"PEX3","c":"3","v":0},{"g":"PLEKHG1◆","c":"1","v":0},{"g":"PLEKHG1◆","c":"2","v":0},{"g":"PLEKHG1◆","c":"3","v":2},{"g":"ASB2","c":"1","v":0},{"g":"ASB2","c":"2","v":0},{"g":"ASB2","c":"3","v":0},{"g":"QRSL1◆","c":"1","v":0},{"g":"QRSL1◆","c":"2","v":0},{"g":"QRSL1◆","c":"3","v":0},{"g":"ZNF606","c":"1","v":0},{"g":"ZNF606","c":"2","v":0},{"g":"ZNF606","c":"3","v":0},{"g":"ASPM","c":"1","v":0},{"g":"ASPM","c":"2","v":0},{"g":"ASPM","c":"3","v":0}]
},
"hconcat":[
{"width":46,"height":720,"data":{"values":[{"from":1,"to":36,"mid":18.47,"label":"Markers of tolerance"}]},"layer":[
{"mark":{"type":"rect","fill":"#ffffcc","stroke":"#000000","strokeWidth":2.5},"encoding":{"y":{"field":"from","type":"quantitative","scale":{"domain":[0,36],"reverse":true},"axis":null},"y2":{"field":"to"}}},
{"mark":{"type":"text","font":"Lato","fontWeight":"bold","fontSize":35,"angle":270,"color":"#000000"},"encoding":{"y":{"field":"mid","type":"quantitative","scale":{"domain":[0,36],"reverse":true},"axis":null},"text":{"field":"label"}}}
]},
{"width":2,"height":720,"data":{"values":[]},"mark":"rect","encoding":{}},
{"width":125,"height":720,"title":{"text":"HV","font":"Lato","fontSize":31,"fontWeight":"bold","color":"#000000","dx":-4,"offset":4.7},"layer":[
{"data":{"values":[{"g":" "}]},"mark":{"type":"rect","fill":"#2e2e2e","stroke":"#1a1a1a","strokeWidth":2,"yOffset":-1.5},"encoding":{"y":{"field":"g","type":"nominal","scale":{"domain":[" ","RPS21","IGLL3P◆","HLA-DOB◆","IGKC◆","SWAP70◆","FNBP4◆","CNOT2","ZNF264","RFC1","RFC4","CD79A◆","IGHM◆","MS4A1◆","FCRL2◆","CD19◆","GNG7◆","EBF1◆","AFF3◆","ID3◆","PNOC◆","CD22◆","ADAM28◆","MZB1◆","FCER2◆","BTLA◆","BACE2","CD200◆","KRT18","DTX1◆","PEX3","PLEKHG1◆","ASB2","QRSL1◆","ZNF606","ASPM"],"paddingInner":0.1,"paddingOuter":0.05},"axis":null}}},
{"data":{"name":"hv"},"mark":{"type":"rect"},"encoding":{"x":{"field":"s","type":"nominal","scale":{"domain":["1","2","3","4","5","6","7","8","9","10"],"paddingInner":0.08,"paddingOuter":0.04},"axis":null},"y":{"field":"g","type":"nominal","axis":null},"fill":{"field":"v","type":"quantitative","scale":{"domain":[-1,0,1],"range":["#00ff00","#000000","#ff0000"]},"legend":{"orient":"none","legendX":0,"legendY":726,"direction":"horizontal","gradientLength":133,"gradientThickness":10,"values":[-1,1],"labelExpr":"datum.value<0?'–':'+'","title":null,"labelFontSize":8,"labelOffset":-2,"labelColor":"#000000","labelOverlap":false}}}}
]},
{"width":3,"height":720,"data":{"values":[]},"mark":"rect","encoding":{}},
{"width":125,"height":720,"title":{"text":"TOL","font":"Lato","fontSize":31,"fontWeight":"bold","color":"#000000","dx":-15,"offset":4.7},"layer":[
{"data":{"values":[{"g":" "}]},"mark":{"type":"rect","fill":"#808080","stroke":"#2a2a2a","strokeWidth":2,"yOffset":-1.5},"encoding":{"y":{"field":"g","type":"nominal","scale":{"domain":[" ","RPS21","IGLL3P◆","HLA-DOB◆","IGKC◆","SWAP70◆","FNBP4◆","CNOT2","ZNF264","RFC1","RFC4","CD79A◆","IGHM◆","MS4A1◆","FCRL2◆","CD19◆","GNG7◆","EBF1◆","AFF3◆","ID3◆","PNOC◆","CD22◆","ADAM28◆","MZB1◆","FCER2◆","BTLA◆","BACE2","CD200◆","KRT18","DTX1◆","PEX3","PLEKHG1◆","ASB2","QRSL1◆","ZNF606","ASPM"],"paddingInner":0.1,"paddingOuter":0.05},"axis":null}}},
{"data":{"name":"tol"},"mark":{"type":"rect"},"encoding":{"x":{"field":"s","type":"nominal","scale":{"domain":["1","2","3","4","5","6","7","8","9","10"],"paddingInner":0.08,"paddingOuter":0.04},"axis":null},"y":{"field":"g","type":"nominal","axis":null},"fill":{"field":"v","type":"quantitative","scale":{"domain":[-1,0,1],"range":["#00ff00","#000000","#ff0000"]},"legend":null}}}
]},
{"width":3,"height":720,"data":{"values":[]},"mark":"rect","encoding":{}},
{"width":150,"height":720,"title":{"text":"STA","font":"Lato","fontSize":31,"fontWeight":"bold","color":"#000000","dx":-14,"offset":4.7},"layer":[
{"data":{"values":[{"g":" "}]},"mark":{"type":"rect","fill":"#d3d3d3","stroke":"#2a2a2a","strokeWidth":2,"yOffset":-1.5},"encoding":{"y":{"field":"g","type":"nominal","scale":{"domain":[" ","RPS21","IGLL3P◆","HLA-DOB◆","IGKC◆","SWAP70◆","FNBP4◆","CNOT2","ZNF264","RFC1","RFC4","CD79A◆","IGHM◆","MS4A1◆","FCRL2◆","CD19◆","GNG7◆","EBF1◆","AFF3◆","ID3◆","PNOC◆","CD22◆","ADAM28◆","MZB1◆","FCER2◆","BTLA◆","BACE2","CD200◆","KRT18","DTX1◆","PEX3","PLEKHG1◆","ASB2","QRSL1◆","ZNF606","ASPM"],"paddingInner":0.1,"paddingOuter":0.05},"axis":null}}},
{"data":{"name":"sta"},"mark":{"type":"rect"},"encoding":{"x":{"field":"s","type":"nominal","scale":{"domain":["1","2","3","4","5","6","7","8","9","10","11","12"],"paddingInner":0.08,"paddingOuter":0.04},"axis":null},"y":{"field":"g","type":"nominal","axis":null},"fill":{"field":"v","type":"quantitative","scale":{"domain":[-1,0,1],"range":["#00ff00","#000000","#ff0000"]},"legend":null}}}
]},
{"width":22,"height":720,"data":{"name":"strip"},"mark":{"type":"rect"},"encoding":{"y":{"field":"g","type":"nominal","scale":{"domain":[" ","RPS21","IGLL3P◆","HLA-DOB◆","IGKC◆","SWAP70◆","FNBP4◆","CNOT2","ZNF264","RFC1","RFC4","CD79A◆","IGHM◆","MS4A1◆","FCRL2◆","CD19◆","GNG7◆","EBF1◆","AFF3◆","ID3◆","PNOC◆","CD22◆","ADAM28◆","MZB1◆","FCER2◆","BTLA◆","BACE2","CD200◆","KRT18","DTX1◆","PEX3","PLEKHG1◆","ASB2","QRSL1◆","ZNF606","ASPM"],"paddingInner":0.1,"paddingOuter":0.05},"axis":{"orient":"right","ticks":false,"domain":false,"labelPadding":8,"labelFont":"Liberation Sans","labelFontSize":18.5,"labelColor":"#333333","labelExpr":"replace(datum.label,'◆','♦')"}},"fill":{"field":"level","type":"nominal","scale":{"domain":["a","b","c","d"],"range":["#604a7b","#b1a0c7","#ccc0da","#e4dfec"]},"legend":null}}},
{"width":108,"height":720,"data":{"values":[]},"mark":"rect","encoding":{}},
{"width":50,"height":720,"layer":[
{"data":{"name":"tbl"},"mark":{"type":"rect","stroke":"#aaaaaa","strokeWidth":1.5},"encoding":{"x":{"field":"c","type":"nominal","scale":{"domain":["1","2","3"],"paddingInner":0,"paddingOuter":0},"axis":null},"y":{"field":"g","type":"nominal","scale":{"domain":[" ","RPS21","IGLL3P◆","HLA-DOB◆","IGKC◆","SWAP70◆","FNBP4◆","CNOT2","ZNF264","RFC1","RFC4","CD79A◆","IGHM◆","MS4A1◆","FCRL2◆","CD19◆","GNG7◆","EBF1◆","AFF3◆","ID3◆","PNOC◆","CD22◆","ADAM28◆","MZB1◆","FCER2◆","BTLA◆","BACE2","CD200◆","KRT18","DTX1◆","PEX3","PLEKHG1◆","ASB2","QRSL1◆","ZNF606","ASPM"],"paddingInner":0,"paddingOuter":0.05},"axis":null},"fill":{"field":"v","type":"ordinal","scale":{"domain":[0,1,2],"range":["#ffffff","#8fa9f7","#5b78f0"]},"legend":null}}},
{"data":{"values":[{"g":" ","c":"1"},{"g":" ","c":"2"},{"g":" ","c":"3"}]},"mark":{"type":"text","font":"Lato","fontSize":19,"color":"#222222","dx":-3,"dy":-2},"encoding":{"x":{"field":"c","type":"nominal","axis":null},"y":{"field":"g","type":"nominal","axis":null},"text":{"field":"c"}}}
]}
]}
